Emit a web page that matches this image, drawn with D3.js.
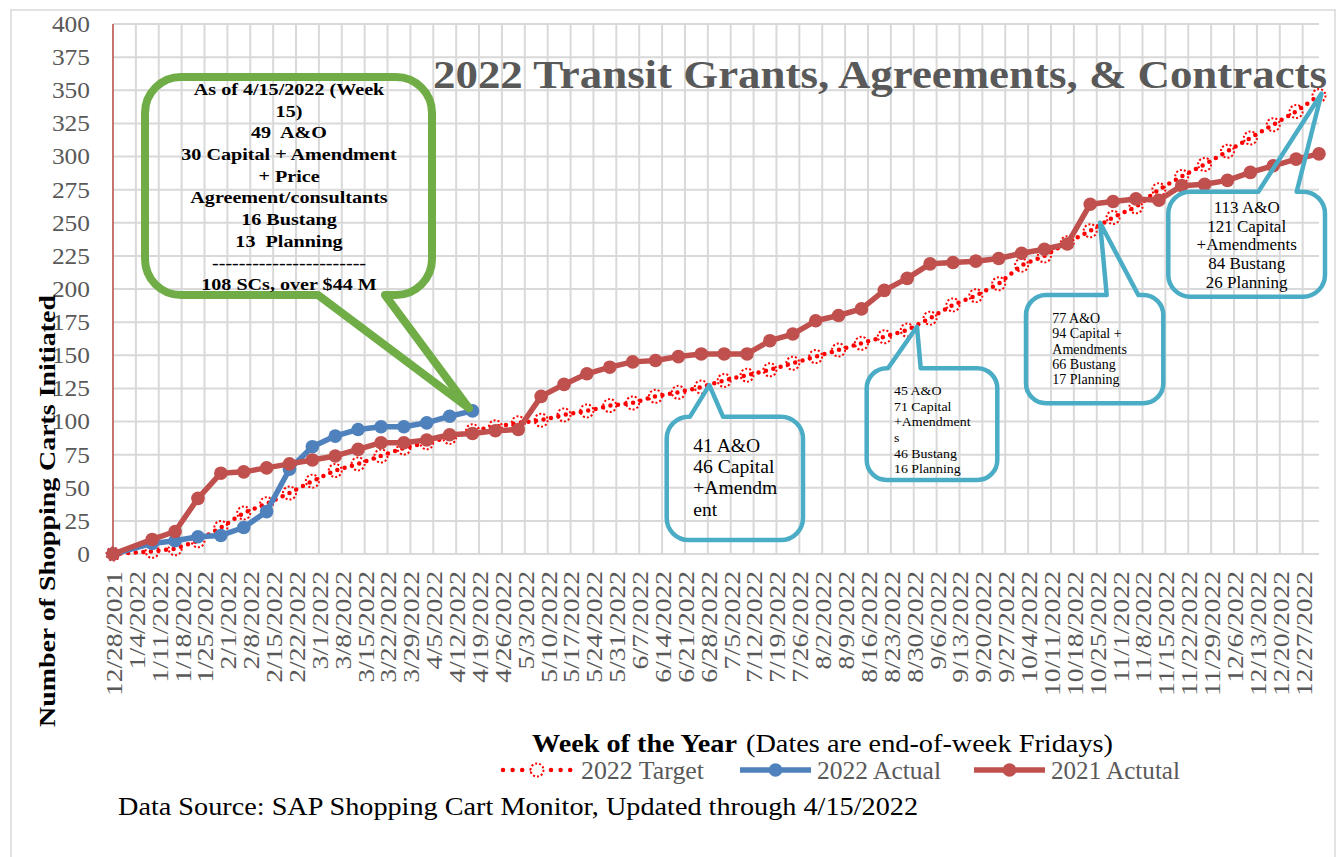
<!DOCTYPE html>
<html><head><meta charset="utf-8">
<script src="https://cdn.jsdelivr.net/npm/d3@7"></script>
<style>
body{margin:0;background:#fff}
svg{display:block}
text{font-family:"Liberation Serif","Times New Roman",serif}
</style>
</head><body>
<svg id="chart" width="1340" height="857"></svg>
<script>
// ---------------- data ----------------
const tickLabels = ["12/28/2021","1/4/2022","1/11/2022","1/18/2022","1/25/2022","2/1/2022","2/8/2022","2/15/2022","2/22/2022","3/1/2022","3/8/2022","3/15/2022","3/22/2022","3/29/2022","4/5/2022","4/12/2022","4/19/2022","4/26/2022","5/3/2022","5/10/2022","5/17/2022","5/24/2022","5/31/2022","6/7/2022","6/14/2022","6/21/2022","6/28/2022","7/5/2022","7/12/2022","7/19/2022","7/26/2022","8/2/2022","8/9/2022","8/16/2022","8/23/2022","8/30/2022","9/6/2022","9/13/2022","9/20/2022","9/27/2022","10/4/2022","10/11/2022","10/18/2022","10/25/2022","11/1/2022","11/8/2022","11/15/2022","11/22/2022","11/29/2022","12/6/2022","12/13/2022","12/20/2022","12/27/2022"];
const pointDates = ["12/28/2021","1/9/2022","1/16/2022","1/23/2022","1/30/2022","2/6/2022","2/13/2022","2/20/2022","2/27/2022","3/6/2022","3/13/2022","3/20/2022","3/27/2022","4/3/2022","4/10/2022","4/17/2022","4/24/2022","5/1/2022","5/8/2022","5/15/2022","5/22/2022","5/29/2022","6/5/2022","6/12/2022","6/19/2022","6/26/2022","7/3/2022","7/10/2022","7/17/2022","7/24/2022","7/31/2022","8/7/2022","8/14/2022","8/21/2022","8/28/2022","9/4/2022","9/11/2022","9/18/2022","9/25/2022","10/2/2022","10/9/2022","10/16/2022","10/23/2022","10/30/2022","11/6/2022","11/13/2022","11/20/2022","11/27/2022","12/4/2022","12/11/2022","12/18/2022","12/25/2022","1/1/2023"];
const target2022 = [0,2,4,10,20,31,38,46,55,63,68,74,80,84,88,93,96,99,101,105,108,112,114,119,122,126,131,135,139,144,149,154,159,164,169,178,188,195,204,218,225,235,244,254,262,275,285,294,304,314,324,334,346];
const actual2022 = [0,8,10,13,14,20,32,64,81,89,94,96,96,99,104,108];
const actual2021 = [0,11,17,42,61,62,65,68,71,74,79,84,84,86,90,91,93,94,119,128,136,141,145,146,149,151,151,151,161,166,176,180,185,199,208,219,220,221,223,227,230,234,264,266,268,267,278,279,282,288,293,298,302];
const yTicks = [0,25,50,75,100,125,150,175,200,225,250,275,300,325,350,375,400];
const seriesNames = ["2022 Target","2022 Actual","2021 Actutal"];
const chartTitle = "2022 Transit Grants, Agreements, & Contracts";
const yTitle = "Number of Shopping Carts Initiated";
const xTitleBold = "Week of the Year";
const xTitleRest = "(Dates are end-of-week Fridays)";
const sourceNote = "Data Source: SAP Shopping Cart Monitor, Updated through 4/15/2022";
const greenLines = ["As of 4/15/2022 (Week","15)","49  A&O","30 Capital + Amendment","+ Price","Agreement/consultants","16 Bustang","13  Planning","-----------------------","108 SCs, over $44 M"];
const note1Lines = ["41 A&O","46 Capital","+Amendm","ent"];
const note2Lines = ["45 A&O","71 Capital","+Amendment","s","46 Bustang","16 Planning"];
const note3Lines = ["77 A&O","94 Capital +","Amendments","66 Bustang","17 Planning"];
const note4Lines = ["113 A&O","121 Capital","+Amendments","84 Bustang","26 Planning"];

// ---------------- setup ----------------
const parse = d3.utcParse("%m/%d/%Y");
const svg = d3.select("#chart");
const GRID = "#d9d9d9", GRAY = "#595959";
const C_BLUE = "#4f81bd", C_RED = "#c0504d", C_TGT = "#ff0000", C_GREEN = "#70ad47", C_CALL = "#4bacc6";

svg.append("rect").attr("width",1340).attr("height",857).attr("fill","#fff");
svg.append("rect").attr("x",11).attr("y",10).attr("width",1324).attr("height",870)
  .attr("fill","none").attr("stroke",GRID).attr("stroke-width",1.5);

const x = d3.scaleUtc().domain([parse("12/28/2021"), parse("1/1/2023")]).range([113,1319]);
const y = d3.scaleLinear().domain([0,400]).range([554,24]);

// gridlines
const grid = svg.append("g");
grid.selectAll("line.h").data(yTicks).join("line")
  .attr("x1",x.range()[0]).attr("x2",x.range()[1])
  .attr("y1",d=>y(d)).attr("y2",d=>y(d))
  .attr("stroke",GRID).attr("stroke-width",2);
grid.selectAll("line.v").data(tickLabels).join("line")
  .attr("x1",d=>x(parse(d))).attr("x2",d=>x(parse(d)))
  .attr("y1",y(0)).attr("y2",y(400))
  .attr("stroke",GRID).attr("stroke-width",2);
// y axis line
svg.append("line").attr("x1",113).attr("x2",113).attr("y1",y(0)).attr("y2",y(400))
  .attr("stroke",C_RED).attr("stroke-width",1.5);

// y tick labels
const yAxis = d3.axisLeft(y).tickValues(yTicks).tickSize(0).tickPadding(0);
const yg = svg.append("g").attr("transform","translate(90,0)").call(yAxis);
yg.select(".domain").remove();
yg.selectAll("text").attr("fill",GRAY).attr("font-size",23)
  .attr("font-family","Liberation Serif")
  .attr("textLength",function(){return this.textContent.length*12.7;})
  .attr("lengthAdjust","spacingAndGlyphs");

// x tick labels
const xAxis = d3.axisBottom(x).tickValues(tickLabels.map(parse)).tickSize(0)
  .tickFormat(d3.utcFormat("%-m/%-d/%Y"));
const xg = svg.append("g").attr("transform",`translate(0,${y(0)})`).call(xAxis);
xg.select(".domain").remove();
xg.selectAll(".tick text")
  .attr("fill",GRAY).attr("font-size",24).attr("font-family","Liberation Serif")
  .attr("text-anchor","end")
  .attr("transform","translate(0,17) rotate(-90)")
  .attr("x",0).attr("y",0).attr("dy","0.35em")
  .attr("textLength",function(){const s=this.textContent;let n=0;for(const c of s)n+=(c==="/"?9.3:13.3);return n;})
  .attr("lengthAdjust","spacingAndGlyphs");

// ---------------- series ----------------
const mk = arr => arr.map((v,i)=>({date:parse(pointDates[i]), v}));
const line = d3.line().x(d=>x(d.date)).y(d=>y(d.v));
const tData = mk(target2022), bData = mk(actual2022), rData = mk(actual2021);

const gT = svg.append("g");
gT.append("path").attr("d",line(tData)).attr("fill","none").attr("stroke",C_TGT)
  .attr("stroke-width",4.5).attr("stroke-linecap","round").attr("stroke-dasharray","0 7.6");
gT.selectAll("circle").data(tData).join("circle")
  .attr("cx",d=>x(d.date)).attr("cy",d=>y(d.v)).attr("r",6.5)
  .attr("fill","none").attr("stroke",C_TGT).attr("stroke-width",2).attr("stroke-dasharray","2 2");

function solidSeries(data,color){
  const g = svg.append("g");
  g.append("path").attr("d",line(data)).attr("fill","none").attr("stroke",color)
    .attr("stroke-width",5.5).attr("stroke-linejoin","round").attr("stroke-linecap","round");
  g.selectAll("circle").data(data).join("circle")
    .attr("cx",d=>x(d.date)).attr("cy",d=>y(d.v)).attr("r",6.8).attr("fill",color);
}
solidSeries(bData,C_BLUE);
solidSeries(rData,C_RED);

// ---------------- titles ----------------
svg.append("text").attr("x",433).attr("y",87.5).text(chartTitle)
  .attr("font-size",40).attr("font-weight","bold").attr("fill",GRAY)
  .attr("textLength",894).attr("lengthAdjust","spacingAndGlyphs");

svg.append("text").attr("transform","translate(47,511) rotate(-90)")
  .attr("text-anchor","middle").attr("dy","0.35em").text(yTitle)
  .attr("font-size",24).attr("font-weight","bold").attr("fill","#000")
  .attr("textLength",432).attr("lengthAdjust","spacingAndGlyphs");

svg.append("text").attr("x",532).attr("y",752).text(xTitleBold)
  .attr("font-size",25).attr("font-weight","bold").attr("fill","#000")
  .attr("textLength",205).attr("lengthAdjust","spacingAndGlyphs");
svg.append("text").attr("x",746).attr("y",752).text(xTitleRest)
  .attr("font-size",25).attr("fill","#000")
  .attr("textLength",367).attr("lengthAdjust","spacingAndGlyphs");

svg.append("text").attr("x",118).attr("y",815).text(sourceNote)
  .attr("font-size",25).attr("fill","#000")
  .attr("textLength",800).attr("lengthAdjust","spacingAndGlyphs");

// ---------------- legend ----------------
const lg = svg.append("g").attr("transform","translate(0,770)");
const legendItems = [
  {name:seriesNames[0], x0:503, x1:571, tx:581, tw:123, type:"target"},
  {name:seriesNames[1], x0:740, x1:811, tx:817, tw:124, type:"solid", color:C_BLUE},
  {name:seriesNames[2], x0:974, x1:1045, tx:1051, tw:129, type:"solid", color:C_RED}
];
legendItems.forEach(it=>{
  const cx=(it.x0+it.x1)/2;
  if(it.type==="target"){
    lg.append("line").attr("x1",it.x0).attr("x2",it.x1).attr("stroke",C_TGT)
      .attr("stroke-width",4.5).attr("stroke-linecap","round").attr("stroke-dasharray","0 9.6");
    lg.append("circle").attr("cx",cx).attr("r",6.5).attr("fill","#fff").attr("stroke",C_TGT)
      .attr("stroke-width",2).attr("stroke-dasharray","2 2");
  } else {
    lg.append("line").attr("x1",it.x0).attr("x2",it.x1).attr("stroke",it.color).attr("stroke-width",5.5);
    lg.append("circle").attr("cx",cx).attr("r",6.8).attr("fill",it.color);
  }
  lg.append("text").attr("x",it.tx).attr("dy","0.35em").text(it.name)
    .attr("font-size",25).attr("fill",GRAY)
    .attr("textLength",it.tw).attr("lengthAdjust","spacingAndGlyphs");
});

// ---------------- callouts ----------------
function calloutPath(c){
  const {x0,y0,x1,y1,r,side,bx0,bx1,tx,ty}=c;
  const p=d3.path();
  p.moveTo(x0+r,y0);
  if(side==="top"){p.lineTo(bx0,y0);p.lineTo(tx,ty);p.lineTo(bx1,y0);}
  p.lineTo(x1-r,y0); p.arcTo(x1,y0,x1,y0+r,r);
  p.lineTo(x1,y1-r); p.arcTo(x1,y1,x1-r,y1,r);
  if(side==="bottom"){p.lineTo(bx1,y1);p.lineTo(tx,ty);p.lineTo(bx0,y1);}
  p.lineTo(x0+r,y1); p.arcTo(x0,y1,x0,y1-r,r);
  p.lineTo(x0,y0+r); p.arcTo(x0,y0,x0+r,y0,r);
  p.closePath();
  return p.toString();
}
const callouts = [
  {x0:145,y0:77,x1:432,y1:295,r:36,side:"bottom",bx0:318,bx1:385,tipDate:"4/17/2022",tipVal:110,dx:-3.5,
   stroke:C_GREEN,sw:8,lines:greenLines,anchor:"middle",tx:289,ty0:95,lh:21.7,fs:17.5,fw:"bold",sx:1.15},
  {x0:666.7,y0:416.7,x1:803,y1:540,r:22,side:"top",bx0:690,bx1:723,tipDate:"6/28/2022",tipVal:127.5,dx:1.5,
   stroke:C_CALL,sw:4.5,lines:note1Lines,anchor:"start",tx:693.3,ty0:451.7,lh:21.4,fs:18.5,fw:"normal",sx:1.06},
  {x0:866.7,y0:368.3,x1:997.3,y1:480,r:20,side:"top",bx0:888,bx1:920.7,tipDate:"8/31/2022",tipVal:171.5,dx:0,
   stroke:C_CALL,sw:4.5,lines:note2Lines,anchor:"start",tx:894,ty0:395,lh:15.7,fs:13.5,fw:"normal",sx:1.03},
  {x0:1026,y0:295,x1:1163.3,y1:403.3,r:20,side:"top",bx0:1106.7,bx1:1138.3,tipDate:"10/26/2022",tipVal:250,dx:0,
   stroke:C_CALL,sw:4.5,lines:note3Lines,anchor:"start",tx:1052.3,ty0:322.7,lh:15.4,fs:14,fw:"normal",sx:1.0},
  {x0:1168.3,y0:191.7,x1:1325,y1:296.7,r:22,side:"top",bx0:1258.3,bx1:1296.7,tipDate:"1/1/2023",tipVal:347.5,dx:2.5,
   stroke:C_CALL,sw:4.5,lines:note4Lines,anchor:"middle",tx:1246.7,ty0:212.7,lh:18.8,fs:17,fw:"normal",sx:1.0}
];
callouts.forEach(c=>{
  c.tx2 = x(parse(c.tipDate))+c.dx; c.ty2 = y(c.tipVal);
  svg.append("path").attr("d",calloutPath({...c,tx:c.tx2,ty:c.ty2}))
    .attr("fill","none").attr("stroke",c.stroke).attr("stroke-width",c.sw).attr("stroke-linejoin","round");
  const g = svg.append("g").attr("transform",`translate(${c.tx},0) scale(${c.sx},1)`);
  c.lines.forEach((t,i)=>{
    g.append("text").attr("x",0).attr("y",c.ty0+i*c.lh).text(t)
      .attr("text-anchor",c.anchor).attr("font-size",c.fs).attr("font-weight",c.fw)
      .attr("fill","#000").style("white-space","pre");
  });
});
</script>
</body></html>
